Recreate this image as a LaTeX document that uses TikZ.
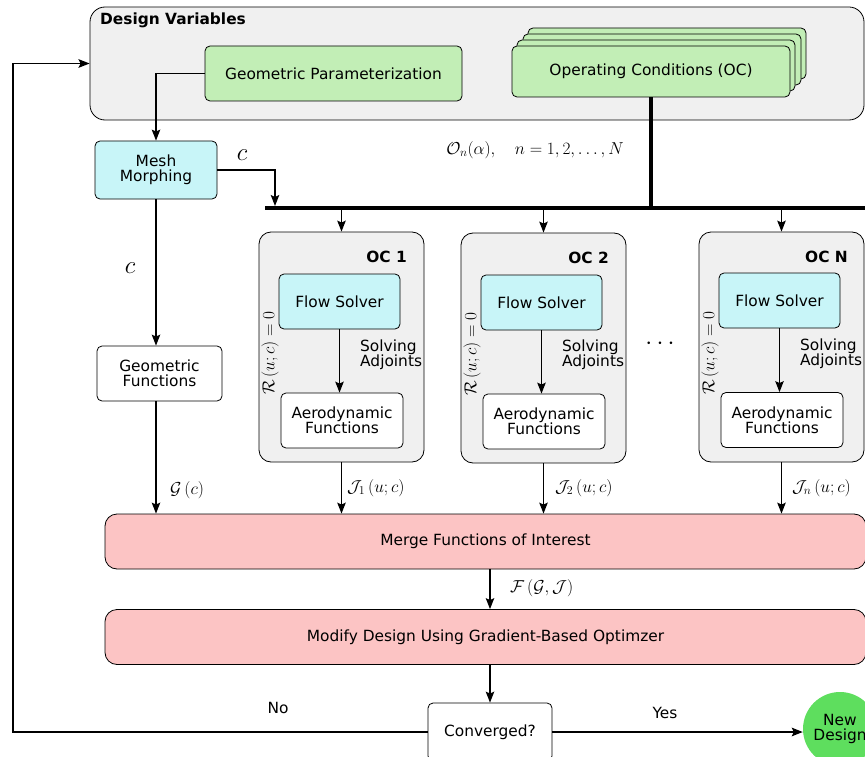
\documentclass[tikz,border=0pt]{standalone}
\usepackage[no-math]{fontspec}
\setmainfont{DejaVu Sans}
\usetikzlibrary{arrows.meta,calc}
\definecolor{dvgray}{HTML}{F0F0F0}
\definecolor{geogreen}{HTML}{C2EEB6}
\definecolor{meshcyan}{HTML}{C8F5F8}
\definecolor{mergepink}{HTML}{FCC4C4}
\definecolor{newgreen}{HTML}{5EDE5E}
\begin{document}
\begin{tikzpicture}[x=1pt,y=-1pt,
  font=\fontsize{15.4}{15}\selectfont,
  box/.style={draw, rounded corners=5pt, align=center, inner sep=0pt, line width=0.8pt},
  container/.style={draw, fill=dvgray, rounded corners=12pt, inner sep=0pt, line width=0.8pt, minimum width=165pt, minimum height=230pt},
  fsbox/.style={box, fill=meshcyan, minimum width=121pt, minimum height=55pt},
  aerobox/.style={box, fill=white, minimum width=122pt, minimum height=55pt},
  ocbox/.style={box, fill=geogreen, minimum width=278pt, minimum height=51pt},
  wide/.style={box, fill=mergepink, rounded corners=12pt, minimum width=761pt, minimum height=55pt},
  arr/.style={-{Stealth[length=11pt,width=8.5pt,inset=2pt]}, line width=1.3pt},
  lbl/.style={inner sep=0pt},
  mlbl/.style={inner sep=0pt, font=\fontsize{17}{17}\selectfont},
  ocl/.style={font=\fontsize{15.4}{15}\selectfont\bfseries, inner sep=0pt, anchor=east},
  bigc/.style={font=\fontsize{23}{23}\selectfont, inner sep=0pt}]
\useasboundingbox (0,0) rectangle (865,757);

% Design variables
\node[box, fill=dvgray, rounded corners=15pt, minimum width=774pt, minimum height=113pt] (dv) at (477,63.5) {};
\node[font=\fontsize{15.4}{15}\selectfont\bfseries, anchor=west, inner sep=0pt] (dvt) at (100,20) {Design Variables};
\node[box, fill=geogreen, minimum width=257pt, minimum height=55pt] (gp) at (333.5,73.5) {Geometric Parameterization};
\node[ocbox] (ocb3) at (667,53.5) {};
\node[ocbox] (ocb2) at (662,59.5) {};
\node[ocbox] (ocb1) at (656,65.5) {};
\node[ocbox] (ocs) at (651,71.5) {Operating Conditions (OC)};

% Mesh morphing and geometric functions
\node[box, fill=meshcyan, minimum width=122pt, minimum height=58pt] (mm) at (156,170) {Mesh\\Morphing};
\node[box, fill=white, minimum width=125pt, minimum height=55pt] (gf) at (159.5,373.5) {Geometric\\Functions};

% bus
\coordinate (busl) at (265,208);
\coordinate (busr) at (866,208);
\draw[line width=4pt] (busl) -- (busr);
\draw[line width=4pt] (ocs.south) -- (ocs.south |- busl);
\node[lbl] (onl) at (535,150) {\fontsize{16.6}{16}\selectfont$\mathcal{O}_n(\alpha),\quad n=1,2,\ldots,N$};

% OC containers
\node[container] (oc1) at (341.5,347) {};
\node[container] (oc2) at (543.5,348) {};
\node[container] (ocn) at (781.5,347) {};
\node[ocl] (oc1t) at (407,257) {OC 1};
\node[ocl] (oc2t) at (609,258) {OC 2};
\node[ocl] (ocnt) at (848,257) {OC N};

\node[fsbox] (fs1) at (339.5,301.5) {Flow Solver};
\node[fsbox] (fs2) at (541.5,302.5) {Flow Solver};
\node[fsbox] (fsn) at (779.5,300.5) {Flow Solver};
\node[aerobox] (ae1) at (342,420.5) {Aerodynamic\\Functions};
\node[aerobox] (ae2) at (544,421.5) {Aerodynamic\\Functions};
\node[aerobox] (aen) at (782,420) {Aerodynamic\\Functions};

\node[lbl, anchor=west, align=left] (sa1) at (360,355) {Solving\\Adjoints};
\node[lbl, anchor=west, align=left] (sa2) at (562,355) {Solving\\Adjoints};
\node[lbl, anchor=west, align=left] (san) at (800,354) {Solving\\Adjoints};

\node[mlbl, rotate=90] (r1) at (270,353) {$\mathcal{R}\left(u;c\right)=0$};
\node[mlbl, rotate=90] (r2) at (472,354) {$\mathcal{R}\left(u;c\right)=0$};
\node[mlbl, rotate=90] (rn) at (710,353) {$\mathcal{R}\left(u;c\right)=0$};

\node[lbl, font=\fontsize{30}{30}\selectfont] (dots) at (660,344) {$\cdots$};

% merge / modify
\node[wide] (merge) at (485.5,541.5) {Merge Functions of Interest};
\node[wide] (mod) at (485.5,637) {Modify Design Using Gradient-Based Optimzer};
\node[box, fill=white, minimum width=124pt, minimum height=58pt] (conv) at (490,732) {Converged?};
\node[draw=none, fill=newgreen, circle, minimum size=74pt, inner sep=0pt, align=center] (nd) at (840,729) {New\\Design};

% connectors
\draw[arr] (gp.west) -| (mm.north);
\coordinate (mmbus) at (275,206);
\draw[arr] (mm.east) -| (mmbus);
\node[bigc] (c1) at (242,155) {$c$};
\draw[arr] (mm.south) -- (mm.south |- gf.north);
\node[bigc] (c2) at (130,268) {$c$};
\draw[arr] (mm.south |- gf.south) -- (mm.south |- merge.north);
\node[mlbl, anchor=west] (gl) at (170,490) {$\mathcal{G}\left(c\right)$};

\draw[arr] (oc1.north |- busl) -- (oc1.north);
\draw[arr] (oc2.north |- busl) -- (oc2.north);
\draw[arr] (ocn.north |- busl) -- (ocn.north);

\draw[arr] (fs1.south) -- (fs1.south |- ae1.north);
\draw[arr] (fs2.south) -- (fs2.south |- ae2.north);
\draw[arr] (fsn.south) -- (fsn.south |- aen.north);

\draw[arr] (oc1.south) -- (oc1.south |- merge.north);
\draw[arr] (oc2.south) -- (oc2.south |- merge.north);
\draw[arr] (ocn.south) -- (ocn.south |- merge.north);
\node[mlbl, anchor=west] (j1) at (347,488) {$\mathcal{J}_1\left(u;c\right)$};
\node[mlbl, anchor=west] (j2) at (555,488) {$\mathcal{J}_2\left(u;c\right)$};
\node[mlbl, anchor=west] (jn) at (792,488) {$\mathcal{J}_n\left(u;c\right)$};

\draw[arr] (conv.north |- merge.south) -- (conv.north |- mod.north);
\node[mlbl, anchor=west] (fl) at (510,588) {$\mathcal{F}\left(\mathcal{G},\mathcal{J}\right)$};
\draw[arr] (conv.north |- mod.south) -- (conv.north);

\draw[arr, line width=1.8pt] (conv.east) -- (conv.east -| nd.west);
\node[lbl] (yes) at (665,713) {Yes};
\coordinate (loop) at (13,63.5);
\draw[arr, line width=1.8pt] (conv.west) -| (loop) -- (dv.west);
\node[lbl] (no) at (278,708) {No};
\end{tikzpicture}
\end{document}
